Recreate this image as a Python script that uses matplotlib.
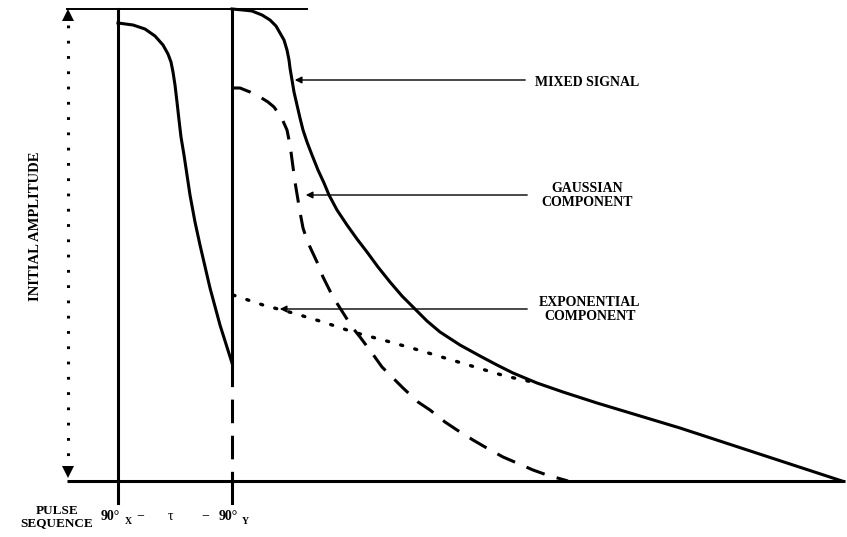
import matplotlib
matplotlib.use("Agg")
import matplotlib.pyplot as plt

plt.rcParams["font.family"] = ["Liberation Serif", "DejaVu Serif"]
plt.rcParams["lines.scale_dashes"] = False
plt.rcParams["lines.solid_joinstyle"] = "round"
plt.rcParams["lines.dash_joinstyle"] = "round"

# time after first pulse (arbitrary units) and signal amplitude
pulse_times = [0, 114]
full_amplitude = 472

# free induction decay after the 90x pulse
fid1_t = [0, 15, 27, 37, 45, 50, 53, 55, 57, 59, 61, 63, 66, 69, 72, 77, 82, 92, 102, 114]
fid1_a = [458, 456, 452, 445, 436, 427, 419, 409, 396, 379, 361, 344, 326, 306, 286,
          259, 236, 193, 156, 118]

# mixed signal after the 90y pulse
mixed_t = [114, 125, 134, 144, 152, 158, 162, 166, 169, 171, 172, 174, 176, 179, 182,
           185, 189, 194, 200, 206, 211, 219, 229, 239, 249, 260, 272, 284, 297, 309,
           322, 342, 362, 379, 395, 407, 419, 445, 479, 562, 724]
mixed_a = [472, 471, 470, 466, 461, 455, 448, 441, 431, 421, 413, 401, 389, 376, 363,
           351, 339, 326, 311, 298, 286, 271, 256, 242, 229, 214, 199, 185, 172, 160,
           149, 136, 125, 116, 108, 103, 98, 89, 78, 53, 0]

# gaussian component
gauss_t = [114, 122, 132, 142, 150, 156, 161, 165, 169, 171, 173, 175, 177, 180, 182,
           185, 189, 192, 199, 205, 215, 222, 234, 242, 254, 264, 277, 285, 300, 312,
           327, 339, 355, 367, 385, 399, 415, 429, 450]
gauss_a = [393, 393, 389, 384, 379, 374, 367, 360, 351, 341, 329, 314, 299, 281, 269,
           253, 241, 234, 219, 204, 184, 173, 154, 144, 128, 114, 101, 93, 79, 71,
           59, 51, 41, 34, 24, 18, 11, 6, 0]

# exponential component
expo_t = [115, 145, 175, 205, 235, 265, 297, 327, 357, 387, 419]
expo_a = [186, 176, 168, 159, 149, 141, 132, 123, 114, 105, 98]

fig = plt.figure(figsize=(8.47, 5.37), dpi=100)
ax = fig.add_axes([0, 0, 1, 1])
ax.set_xlim(-118, 729)
ax.set_ylim(-56, 481)
ax.axis("off")

k = "black"

# baseline and top reference line
ax.plot([-51, 727], [0, 0], color=k, lw=2.2, solid_capstyle="butt")
ax.plot([-51, 189], [full_amplitude, full_amplitude], color=k, lw=1.4)

# pulse lines
t1, t2 = pulse_times
ax.plot([t1, t1], [full_amplitude, -22], color=k, lw=2.2)
ax.plot([t2, t2], [full_amplitude, fid1_a[-1]], color=k, lw=2.2)
ax.plot([t2, t2], [fid1_a[-1], 0], color=k, lw=2.2, dashes=(17, 9))
ax.plot([t2, t2], [0, -22], color=k, lw=2.2)

# initial amplitude dotted arrow
ax.plot([-50, -50], [456, 16], color=k, lw=2.2, dashes=(2, 9))
ax.plot([-50], [466], marker="^", color=k, ms=8, mew=0)
ax.plot([-50], [9], marker="v", color=k, ms=8, mew=0)

# curves
ax.plot(fid1_t, fid1_a, color=k, lw=2.2)
ax.plot(mixed_t, mixed_a, color=k, lw=2.2)
ax.plot(gauss_t, gauss_a, color=k, lw=2.2, dashes=(14, 9))
ax.plot(expo_t, expo_a, color=k, lw=2.4, dashes=(1.5, 9), dash_capstyle="round")

# pointer arrows
arr = dict(arrowstyle="-|>", color=k, lw=1.0, mutation_scale=10)
ax.annotate("", xy=(174, 401), xytext=(410, 401), arrowprops=arr)
ax.annotate("", xy=(185, 286), xytext=(412, 286), arrowprops=arr)
ax.annotate("", xy=(159, 172), xytext=(412, 172), arrowprops=arr)

fs = 10
ax.text(417, 399, "MIXED SIGNAL", fontsize=fs, fontweight="bold", ha="left", va="center")
ax.text(469, 286, "GAUSSIAN\nCOMPONENT", fontsize=fs, fontweight="bold",
        ha="center", va="center", linespacing=1.1)
ax.text(472, 172, "EXPONENTIAL\nCOMPONENT", fontsize=fs, fontweight="bold",
        ha="center", va="center", linespacing=1.1)
ax.text(-83, 255, "INITIAL AMPLITUDE", fontsize=10.5, fontweight="bold",
        rotation=90, ha="center", va="center")
ax.text(-61, -36, "PULSE\nSEQUENCE", fontsize=9.5, fontweight="bold",
        ha="center", va="center", linespacing=1.0)

# pulse sequence labels
ax.text(-8, -35, "90°", fontsize=fs, fontweight="bold", ha="center", va="center")
ax.text(10, -41, "X", fontsize=7, fontweight="bold", ha="center", va="center")
ax.text(22, -35, "−", fontsize=fs, ha="center", va="center")
ax.text(52, -35, "τ", fontsize=fs, ha="center", va="center")
ax.text(87, -35, "−", fontsize=fs, ha="center", va="center")
ax.text(110, -35, "90°", fontsize=fs, fontweight="bold", ha="center", va="center")
ax.text(127, -41, "Y", fontsize=7, fontweight="bold", ha="center", va="center")

fig.savefig("out.png", dpi=100)
